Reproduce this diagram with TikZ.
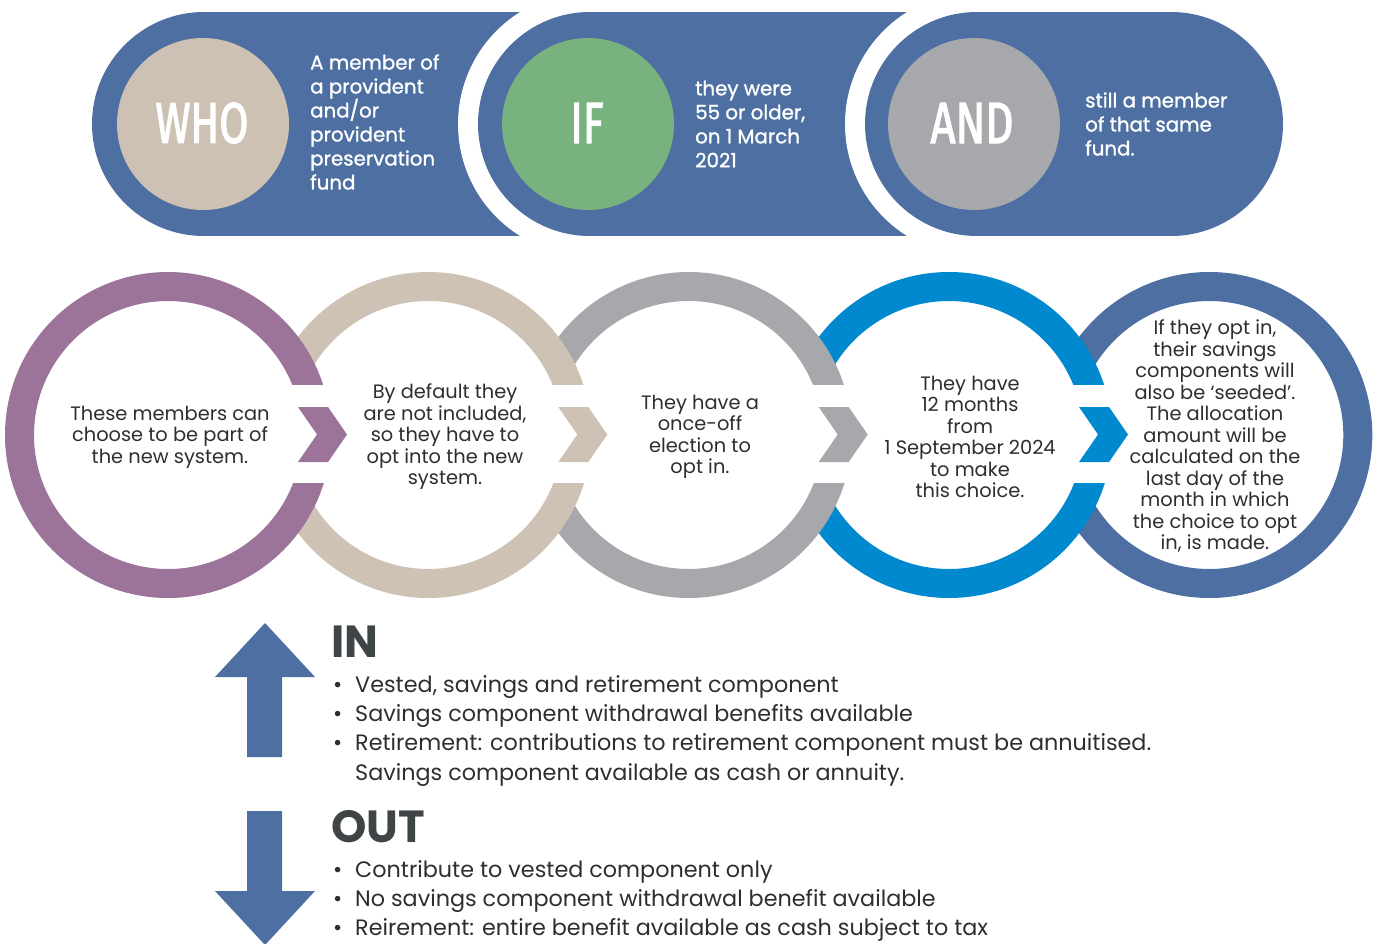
\documentclass[tikz,border=0pt]{standalone}
\usepackage{graphicx}
\usepackage{fontspec}
\setmainfont{Poppins}
\newfontfamily\condfont[FakeBold=2.5]{Fira Sans}
\newfontfamily\medfont[FakeBold=1.2]{Poppins}
\definecolor{pillblue}{HTML}{4D6FA1}
\definecolor{whobeige}{HTML}{CDC1B3}
\definecolor{ifgreen}{HTML}{78B27F}
\definecolor{andgray}{HTML}{A7A8AB}
\definecolor{cpurple}{HTML}{9C7399}
\definecolor{cbeige}{HTML}{CEC2B4}
\definecolor{cgray}{HTML}{A7A8AC}
\definecolor{cblue}{HTML}{0089CF}
\definecolor{cdark}{HTML}{4D6FA1}
\definecolor{bodytext}{HTML}{2E2E2E}
\definecolor{headtext}{HTML}{3F4446}
\tikzset{
  toptext/.style={text=white, align=left, inner sep=0pt, font=\medfont\fontsize{19.8pt}{24pt}\selectfont},
  bigword/.style={text=white, inner sep=0pt},
  ctext/.style={text=bodytext, align=center, inner sep=0pt, font=\fontsize{19.4pt}{21.5pt}\selectfont},
  headword/.style={text=headtext, inner sep=0pt, anchor=base west, font=\bfseries\fontsize{45pt}{45pt}\selectfont},
  btext/.style={text=bodytext, inner sep=0pt, anchor=base west, font=\fontsize{22.3pt}{26pt}\selectfont},
  ring/.style={draw=#1, fill=white, line width=29pt},
}
\newcommand{\bul}{\makebox[22pt][l]{\textbullet}}
\begin{document}
\begin{tikzpicture}[x=1pt,y=-1pt]
\useasboundingbox (0,0) rectangle (1383,943);
% ---------- top pills ----------
\fill[pillblue] (204,124) circle[radius=112pt];
\fill[pillblue] (204,12) rectangle (700,236);
\fill[white] (590,124) circle[radius=132pt];
\fill[pillblue] (590,124) circle[radius=112pt];
\fill[pillblue] (590,12) rectangle (1000,236);
\fill[white] (977,124) circle[radius=132pt];
\fill[pillblue] (977,124) circle[radius=112pt];
\fill[pillblue] (977,12) rectangle (1171,236);
\fill[pillblue] (1171,124) circle[radius=112pt];
\fill[whobeige] (203,124) circle[radius=86pt];
\fill[ifgreen] (588,124) circle[radius=86pt];
\fill[andgray] (974,124) circle[radius=86pt];
\node[bigword] (who) at (202,123) {\resizebox{93pt}{40pt}{\condfont WHO}};
\node[bigword] (if) at (587,123) {\resizebox{33pt}{40pt}{\condfont IF}};
\node[bigword] (and) at (972,123) {\resizebox{83pt}{40pt}{\condfont AND}};
\node[toptext, anchor=west] (whotext) at (310,122) {A member of\\a provident\\and/or\\provident\\preservation\\fund};
\node[toptext, anchor=west] (iftext) at (695,124) {they were\\55 or older,\\on 1 March\\2021};
\node[toptext, anchor=west] (andtext) at (1085,124) {still a member\\of that same\\fund.};
% ---------- ring circles (right to left) ----------
\foreach \cx/\col/\cut in {1209.3/cdark/0, 949/cblue/1, 688.7/cgray/1, 428.3/cbeige/1, 168/cpurple/1}{
  \draw[ring=\col] (\cx,435) circle[radius=148.5pt];
  \ifnum\cut=1
    \fill[white] (\cx+115,385) rectangle (\cx+172,483);
    \fill[\col] (\cx+130,407) -- (\cx+160,407) -- (\cx+179,434.5) -- (\cx+160,462) -- (\cx+130,462) -- (\cx+149,434.5) -- cycle;
  \fi
}
\node[ctext] (c1) at (170,437) {These members can\\choose to be part of\\the new system.};
\node[ctext] (c2) at (445,437) {By default they\\are not included,\\so they have to\\opt into the new\\system.};
\node[ctext] (c3) at (700,437) {They have a\\once-off\\election to\\opt in.};
\node[ctext] (c4) at (970,437) {They have\\12 months\\from\\1 September 2024\\to make\\this choice.};
\node[ctext] (c5) at (1215,436) {If they opt in,\\their savings\\components will\\also be `seeded'.\\The allocation\\amount will be\\calculated on the\\last day of the\\month in which\\the choice to opt\\in, is made.};
% ---------- IN / OUT ----------
\fill[pillblue] (265,623) -- (315,677) -- (282,677) -- (282,757) -- (247,757) -- (247,677) -- (215,677) -- cycle;
\fill[pillblue] (247,811) -- (282,811) -- (282,891) -- (315,891) -- (265,945) -- (215,891) -- (247,891) -- cycle;
\node[headword] (inhead) at (331,657) {IN};
\node[btext] (in1) at (333,692) {\bul Vested, savings and retirement component};
\node[btext] (in2) at (333,721) {\bul Savings component withdrawal benefits available};
\node[btext] (in3) at (333,750) {\bul Retirement: contributions to retirement component must be annuitised.};
\node[btext] (in4) at (355,780) {Savings component available as cash or annuity.};
\node[headword] (outhead) at (331,842) {OUT};
\node[btext] (out1) at (333,877) {\bul Contribute to vested component only};
\node[btext] (out2) at (333,906) {\bul No savings component withdrawal benefit available};
\node[btext] (out3) at (333,935) {\bul Reirement: entire benefit available as cash subject to tax};
\end{tikzpicture}
\end{document}
